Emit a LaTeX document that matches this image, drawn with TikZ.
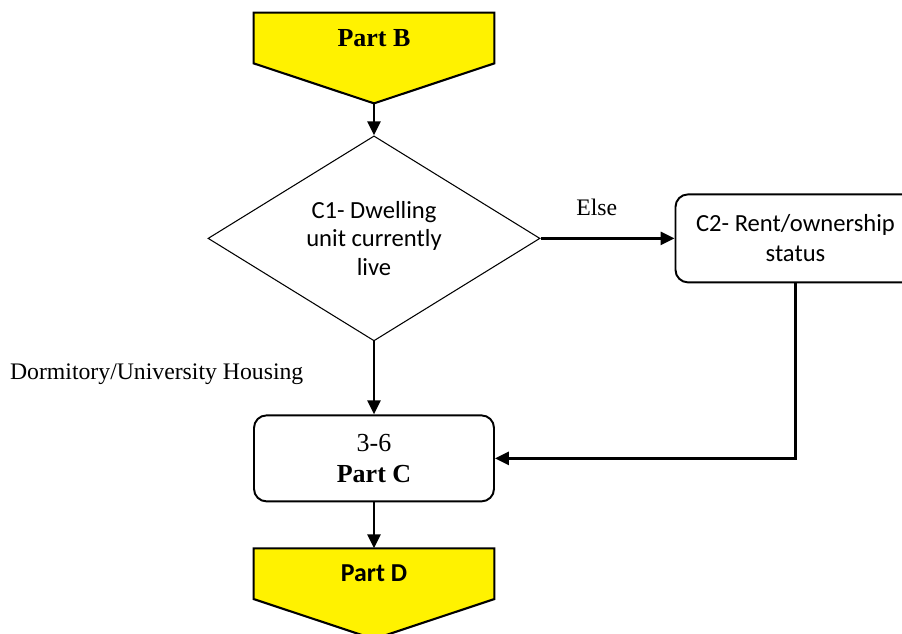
\documentclass[tikz,border=0pt]{standalone}
\usepackage{fontspec}
\setmainfont{Liberation Serif}
\newfontfamily\calibri{Carlito}
\usepackage{tikz}
\usetikzlibrary{shapes.geometric, positioning, backgrounds}
\usetikzlibrary{arrows.meta}
\tikzset{>={Triangle[width=2.6mm,length=2.8mm]}}

\begin{document}
\begin{tikzpicture}[partnode/.style={rectangle, minimum width=4.8cm, minimum height=1cm, inner sep=0pt, font=\fontsize{14.8}{17}\selectfont\bfseries}, decision/.style={diamond, draw=black, line width=0.6pt, minimum width=6.64cm, minimum height=4.1cm, aspect=1.6, inner sep=0pt, align=center, font=\calibri\fontsize{14}{16.3}\selectfont}, process/.style={rectangle, rounded corners=0.25cm, draw=black, line width=1.1pt, minimum width=4.8cm, align=center}, emptynode/.style={draw=none, fill=none, font=\fontsize{13.5}{16}\selectfont}, line/.style={->, line width=1.5pt}, pointer/.style={draw=black, fill=yellow, line width=1.2pt, line join=miter}]

    \useasboundingbox (0,0) rectangle (18.04,-12.66);

    %Nodes
    \node[partnode](partB) at (7.48,-0.76){Part B};
    \coordinate[below=0.8cm of partB.south](partBtip);
    \node[decision](dwelling)[below=0.64cm of partBtip]{C1- Dwelling\\unit currently\\live};
    \node[process, minimum height=1.76cm, font=\calibri\fontsize{14}{17}\selectfont](status)[right=2.68cm of dwelling]{C2- Rent/ownership\\status};
    \node[process, minimum height=1.72cm, font=\fontsize{14.8}{17.6}\selectfont](partC)[below=1.46cm of dwelling]{3-6\\\textbf{Part C}};
    \node[partnode, font=\calibri\fontsize{14.7}{17}\selectfont\bfseries](partD)[below=0.92cm of partC]{Part D};

    %Pointers
    \begin{scope}[on background layer]
    \foreach \p in {partB, partD}
        \filldraw[pointer] (\p.north west) -- (\p.north east) -- (\p.south east) -- ([yshift=-0.8cm]\p.south) -- (\p.south west) -- cycle;
    \end{scope}

    %Lines
    \draw[line] (partBtip) -- (dwelling.north);
    \draw[line] (dwelling.east) -- node[emptynode, above=0.3cm, pos=0.42]{Else} (status.west);
    \draw[line] (dwelling.south) -- node[emptynode, left=1.27cm, pos=0.45]{Dormitory/University Housing} (partC.north);
    \draw[line] (status.south) |- (partC.east);
    \draw[line] (partC.south) -- (partD.north);

\end{tikzpicture}
\end{document}
